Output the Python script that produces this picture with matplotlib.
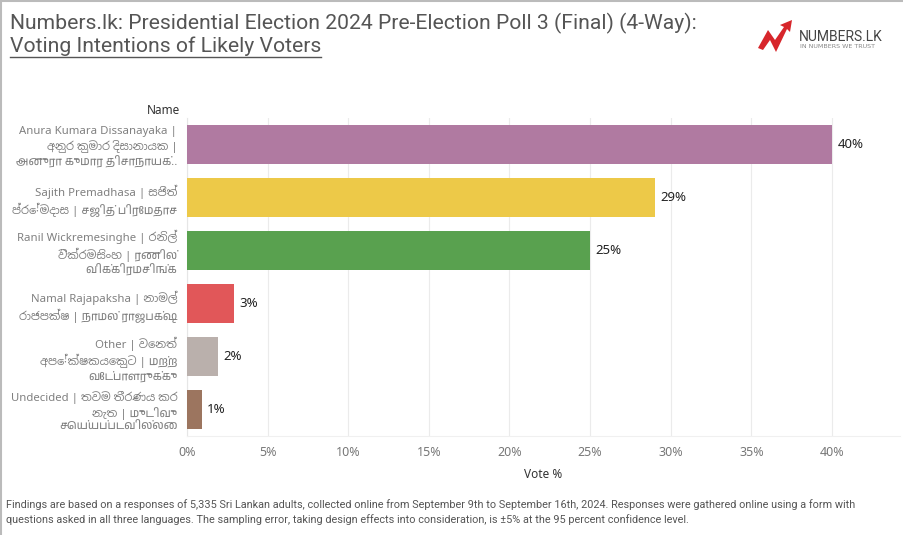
import matplotlib
matplotlib.use("Agg")
import matplotlib.pyplot as plt
from matplotlib import font_manager
from matplotlib.patches import Polygon
from matplotlib.lines import Line2D

# ---------------- data ----------------
candidates = [
    "Anura Kumara Dissanayaka |\nඅනුර කුමාර දිසානායක |\nஅனுரா குமார திசாநாயக்..",
    "Sajith Premadhasa | සජිත්\nප්‍රේමදාස | சஜித் பிரேமதாச",
    "Ranil Wickremesinghe | රනිල්\nවික්‍රමසිංහ | ரணில்\nவிக்கிரமசிங்க",
    "Namal Rajapaksha | නාමල්\nරාජපක්ෂ | நாமல் ராஜபக்ஷ",
    "Other | වෙනත්\nඅපේක්ෂකයෙකුට | மற்ற\nவேட்பாளருக்கு",
    "Undecided | තවම තීරණය කර\nනැත | முடிவு\nசெய்யப்படவில்லை",
]
votes = [40.0, 29.0, 25.0, 2.9, 1.9, 0.9]
colors = ["#B07AA1", "#EDC948", "#59A14F", "#E15759", "#BAB0AC", "#9C755F"]
xticks = [0, 5, 10, 15, 20, 25, 30, 35, 40]

# ---------------- fonts ----------------
extra = []
for f in font_manager.fontManager.ttflist:
    n = f.name
    if ("Sinhala" in n or "Tamil" in n) and n not in extra:
        extra.append(n)
label_family = ["Noto Sans"] + extra + ["DejaVu Sans"]
names = {f.name for f in font_manager.fontManager.ttflist}
title_family = ["Liberation Sans Narrow"] if "Liberation Sans Narrow" in names else ["Roboto"]

W, H = 904, 535
fig = plt.figure(figsize=(W / 100, H / 100), dpi=100)
fig.patch.set_facecolor("white")

def fx(px):
    return px / W

def fy(py):
    return 1 - py / H

# axes: x 187..900, y 118..436 px
ax = fig.add_axes([fx(187), fy(436), fx(900) - fx(187), (436 - 118) / H])
xmax = (900 - 187) / ((832 - 187) / 40.0)
ypos = list(range(len(votes)))
ax.barh(ypos, votes, height=0.74, color=colors, zorder=3)
ax.set_xlim(0, xmax)
ax.set_ylim(len(votes) - 0.5, -0.5)
ax.set_xticks(xticks)
ax.set_xticklabels([f"{t}%" for t in xticks], color="#777777", fontsize=9, family="Noto Sans")
ax.tick_params(axis="x", length=0, pad=7)
ax.set_yticks(ypos)
ax.set_yticklabels(candidates, fontsize=8.2, color="#808080", family=label_family,
                   linespacing=1.3)
ax.tick_params(axis="y", length=0, pad=7)
for lbl in ax.get_yticklabels():
    lbl.set_horizontalalignment("right")
ax.grid(axis="x", color="#EBEBEB", linewidth=0.8, zorder=0)
for s in ["top", "right"]:
    ax.spines[s].set_visible(False)
ax.spines["left"].set_color("#E6E6E6")
ax.spines["bottom"].set_color("#F0F0F0")
ax.set_xlabel("Vote %", fontsize=8.5, color="#333333", family="Noto Sans", labelpad=7)

for y, v in zip(ypos, votes):
    ax.annotate(f"{round(v)}%", (v, y), xytext=(4, 0), textcoords="offset points",
                va="center", ha="left", fontsize=9.5, color="#222222", family="Noto Sans")

# "Name" header
fig.text(fx(180), fy(110), "Name", ha="right", va="center", fontsize=8.5,
         fontweight="bold", color="#333333", family="Noto Sans")

# title
fig.text(fx(10), fy(23), "Numbers.lk: Presidential Election 2024 Pre-Election Poll 3 (Final) (4-Way):",
         ha="left", va="center", fontsize=15.2, color="#555555", family=title_family)
t2 = fig.text(fx(10), fy(46), "Voting Intentions of Likely Voters",
              ha="left", va="center", fontsize=15.2, color="#555555", family=title_family)
fig.canvas.draw()
bb = t2.get_window_extent()
fig.add_artist(Line2D([bb.x0 / W, bb.x1 / W], [fy(56.5), fy(56.5)], color="#555555",
                      linewidth=1.0, transform=fig.transFigure))

# logo
logo = Polygon([[fx(758), fy(48)], [fx(768), fy(30)], [fx(775), fy(40)], [fx(784), fy(27)],
                [fx(780), fy(25)], [fx(792), fy(20)], [fx(790), fy(32)], [fx(787), fy(29)],
                [fx(776), fy(52)], [fx(770), fy(40)], [fx(763), fy(50)]],
               closed=True, transform=fig.transFigure, facecolor="#D7262B", edgecolor="none")
fig.add_artist(logo)
fig.text(fx(799), fy(37), "NUMBERS.LK", ha="left", va="center", fontsize=10,
         color="#444444", family=title_family)
fig.text(fx(800), fy(46), "IN NUMBERS WE TRUST", ha="left", va="center", fontsize=4.6,
         color="#888888", family="DejaVu Sans")

# footnote
fig.text(fx(6), fy(505),
         "Findings are based on a responses of 5,335 Sri Lankan adults, collected online from September 9th to September 16th, 2024. Responses were gathered online using a form with",
         ha="left", va="center", fontsize=7.8, color="#555555", family="Roboto")
fig.text(fx(6), fy(520),
         "questions asked in all three languages. The sampling error, taking design effects into consideration, is \u00b15% at the 95 percent confidence level.",
         ha="left", va="center", fontsize=7.8, color="#555555", family="Roboto")

# frame lines (top/left)
fig.add_artist(Line2D([0, 1], [fy(1), fy(1)], color="#BBBBBB", linewidth=1.5, transform=fig.transFigure))
fig.add_artist(Line2D([fx(1), fx(1)], [0, 1], color="#BBBBBB", linewidth=1.5, transform=fig.transFigure))

fig.savefig("out.png", dpi=100, facecolor="white")
